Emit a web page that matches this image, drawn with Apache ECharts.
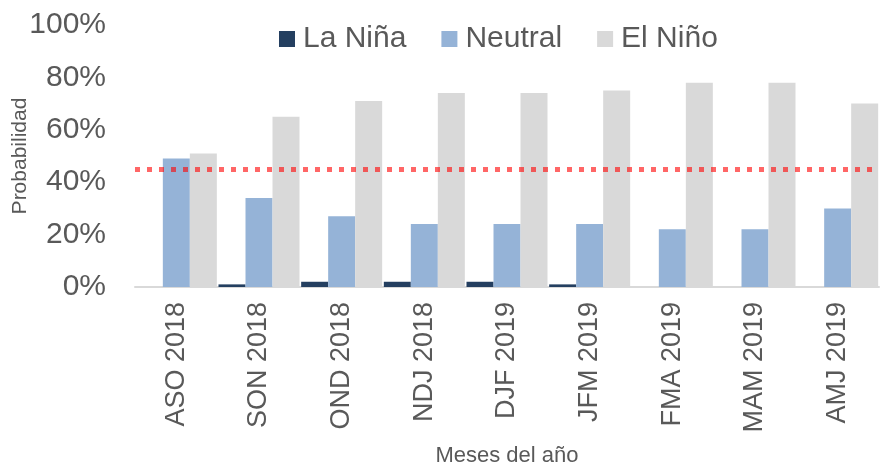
<!DOCTYPE html>
<html>
<head>
<meta charset="utf-8">
<script src="https://cdn.jsdelivr.net/npm/echarts@6/dist/echarts.min.js"></script>
<style>
  html, body { margin: 0; padding: 0; background: #fff; }
  #chart { width: 883px; height: 464px; }
</style>
</head>
<body>
<div id="chart"></div>
<script>
// data
const months = ['ASO 2018', 'SON 2018', 'OND 2018', 'NDJ 2018', 'DJF 2019', 'JFM 2019', 'FMA 2019', 'MAM 2019', 'AMJ 2019']
const laNina = [0, 1, 2, 2, 2, 1, 0, 0, 0]
const neutral = [49, 34, 27, 24, 24, 24, 22, 22, 30]
const elNino = [51, 65, 71, 74, 74, 75, 78, 78, 70]
const threshold = 45

const font = 'Arial, "Liberation Sans", sans-serif'
const textColor = '#595959'

let chart = echarts.init(document.getElementById('chart'))

let option = {
  animation: false,
  textStyle: { fontFamily: font },
  grid: { left: 135, right: 4, top: 25, bottom: 177, containLabel: false, outerBoundsMode: 'none' },
  legend: {
    top: 24,
    left: 279,
    padding: 0,
    itemWidth: 16,
    itemHeight: 16,
    itemGap: 35,
    icon: 'rect',
    textStyle: { fontSize: 30, color: textColor, fontFamily: font, padding: [0, 0, 0, 3] },
    data: ['La Niña', 'Neutral', 'El Niño']
  },
  xAxis: {
    type: 'category',
    data: months,
    name: 'Meses del año',
    nameLocation: 'middle',
    nameGap: 158,
    nameMoveOverlap: false,
    nameTextStyle: { fontSize: 22, color: textColor },
    axisLine: { lineStyle: { color: '#D9D9D9', width: 2 } },
    axisTick: { show: false },
    axisLabel: { rotate: 90, fontSize: 27, color: textColor, margin: 15, interval: 0 }
  },
  yAxis: {
    type: 'value',
    min: 0,
    max: 100,
    interval: 20,
    name: 'Probabilidad',
    nameLocation: 'middle',
    nameGap: 104,
    nameRotate: 90,
    nameMoveOverlap: false,
    nameTextStyle: { fontSize: 21, color: textColor },
    axisLine: { show: false },
    axisTick: { show: false },
    splitLine: { show: false },
    axisLabel: { fontSize: 30, color: textColor, margin: 29, formatter: '{value}%' }
  },
  series: [
    {
      name: 'La Niña',
      type: 'bar',
      data: laNina,
      barGap: '0%',
      barCategoryGap: '2%',
      itemStyle: { color: '#243F60' }
    },
    {
      name: 'Neutral',
      type: 'bar',
      data: neutral,
      barGap: '0%',
      barCategoryGap: '2%',
      itemStyle: { color: '#95B3D7' }
    },
    {
      name: 'El Niño',
      type: 'bar',
      data: elNino,
      barGap: '0%',
      barCategoryGap: '2%',
      itemStyle: { color: '#D9D9D9' },
      markLine: {
        silent: true,
        symbol: 'none',
        label: { show: false },
        lineStyle: { color: 'rgba(255,0,0,0.6)', width: 5, type: [5, 7], cap: 'butt' },
        data: [{ yAxis: threshold }]
      }
    }
  ]
}

chart.setOption(option)
</script>
</body>
</html>
